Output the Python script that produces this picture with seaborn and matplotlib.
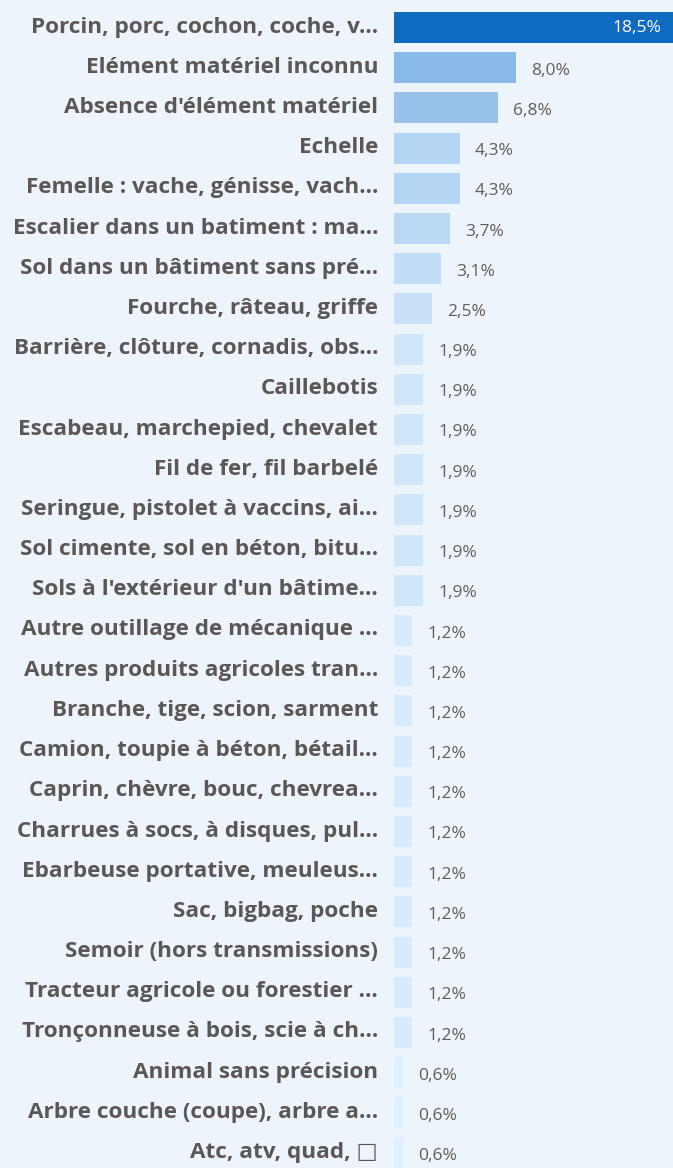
import matplotlib
matplotlib.use("Agg")
import matplotlib.pyplot as plt
import matplotlib.colors as mcolors
import matplotlib.transforms as mtransforms
import seaborn as sns
import pandas as pd

categories = [
    "Porcin, porc, cochon, coche, v...",
    "Elément matériel inconnu",
    "Absence d'élément matériel",
    "Echelle",
    "Femelle : vache, génisse, vach...",
    "Escalier dans un batiment : ma...",
    "Sol dans un bâtiment sans pré...",
    "Fourche, râteau, griffe",
    "Barrière, clôture, cornadis, obs...",
    "Caillebotis",
    "Escabeau, marchepied, chevalet",
    "Fil de fer, fil barbelé",
    "Seringue, pistolet à vaccins, ai...",
    "Sol cimente, sol en béton, bitu...",
    "Sols à l'extérieur d'un bâtime...",
    "Autre outillage de mécanique ...",
    "Autres produits agricoles tran...",
    "Branche, tige, scion, sarment",
    "Camion, toupie à béton, bétail...",
    "Caprin, chèvre, bouc, chevrea...",
    "Charrues à socs, à disques, pul...",
    "Ebarbeuse portative, meuleus...",
    "Sac, bigbag, poche",
    "Semoir (hors transmissions)",
    "Tracteur agricole ou forestier ...",
    "Tronçonneuse à bois, scie à ch...",
    "Animal sans précision",
    "Arbre couche (coupe), arbre a...",
    "Atc, atv, quad, \u25a1",
]
values = [18.5, 8.0, 6.8, 4.3, 4.3, 3.7, 3.1, 2.5,
          1.9, 1.9, 1.9, 1.9, 1.9, 1.9, 1.9,
          1.2, 1.2, 1.2, 1.2, 1.2, 1.2, 1.2, 1.2, 1.2, 1.2, 1.2,
          0.6, 0.6, 0.6]

BG = "#EDF4FB"
LABEL = "#5B5757"
VALUE = "#605E5C"
FONTS = ["Open Sans", "DejaVu Sans"]

sns.set_theme(style="white")
plt.rcParams["font.family"] = FONTS

df = pd.DataFrame({"category": categories, "value": values})

# colour scale running from the smallest to the largest share
cmap = mcolors.LinearSegmentedColormap.from_list("share", ["#DEEFFF", "#0F6BC2"])
norm = mcolors.Normalize(vmin=min(values), vmax=max(values))
palette = [cmap(norm(v)) for v in values]

W, H = 673, 1168
fig = plt.figure(figsize=(W / 100, H / 100), dpi=100, facecolor=BG)
ax = fig.add_axes([394 / W, 0, 1 - 394 / W, 1], facecolor=BG)

sns.barplot(data=df, x="value", y="category", hue="category", palette=palette,
            dodge=False, legend=False, width=0.77, orient="h", ax=ax,
            saturation=1, linewidth=0, edgecolor="none")

pitch = 40.2
ax.set_ylim((H - 27.5) / pitch, -27.5 / pitch)
ax.set_xlim(0, (W - 394) / 15.25)
ax.set_xlabel("")
ax.set_ylabel("")
ax.set_xticks([])
for s in ax.spines.values():
    s.set_visible(False)

ax.set_yticks(range(len(categories)))
ax.set_yticklabels(categories, fontsize=16.2, fontweight="bold", color=LABEL,
                   family=FONTS)
ax.tick_params(axis="y", length=0, pad=11.5)
lift = mtransforms.ScaledTranslation(0, 3 / 100, fig.dpi_scale_trans)
for lbl in ax.get_yticklabels():
    lbl.set_transform(lbl.get_transform() + lift)

xmax = ax.get_xlim()[1]
for i, v in enumerate(values):
    txt = f"{v:.1f}%".replace(".", ",")
    if v > xmax:
        ax.annotate(txt, xy=(xmax, i), xytext=(-12, -1), textcoords="offset pixels",
                    ha="right", va="center", color="white", fontsize=12.5)
    else:
        ax.annotate(txt, xy=(v, i), xytext=(15, -3), textcoords="offset pixels",
                    ha="left", va="center", color=VALUE, fontsize=12.5)

fig.savefig("out.png", dpi=100, facecolor=BG)
